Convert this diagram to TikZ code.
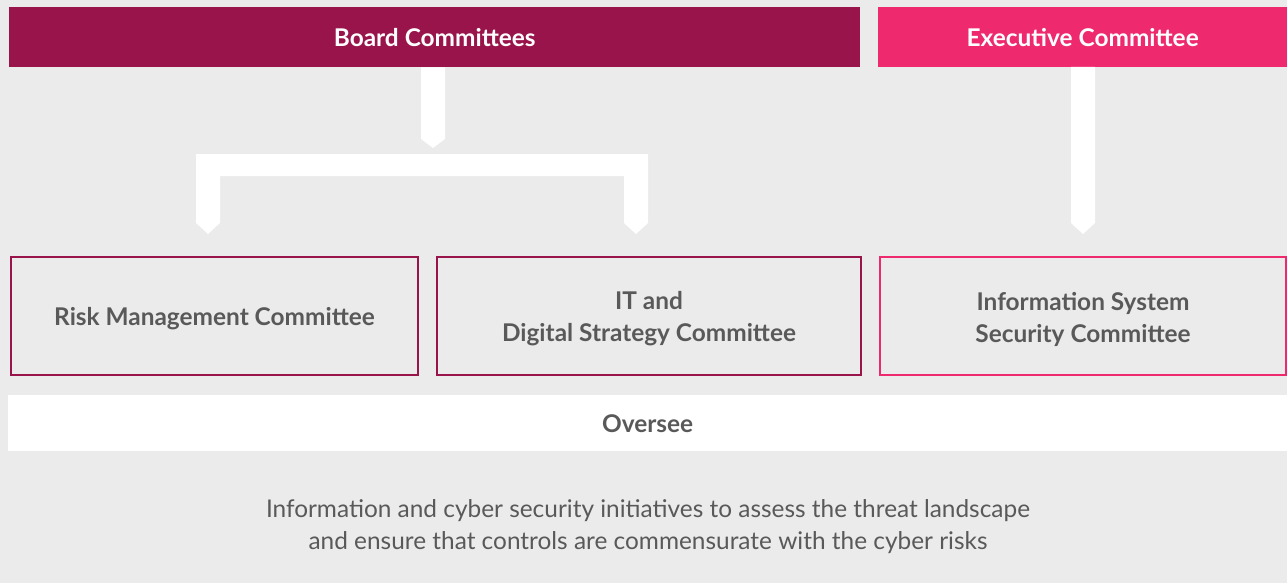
\documentclass[tikz,border=0pt]{standalone}
\usepackage{fontspec}
\setmainfont{Lato}
\usetikzlibrary{calc}
\definecolor{bgray}{HTML}{EBEBEB}
\definecolor{boardc}{HTML}{99144B}
\definecolor{execc}{HTML}{EE296E}
\definecolor{txtc}{HTML}{595959}
\tikzset{
  header/.style={anchor=north west, inner sep=0pt, text=white, font=\fontsize{24.4}{28}\selectfont\bfseries, align=center},
  combox/.style={anchor=north west, inner sep=0pt, line width=2pt, minimum height=118pt},
  comtext/.style={inner sep=0pt, text=txtc, font=\fontsize{24.4}{32}\selectfont\bfseries, align=center, yshift=-3pt},
  conn/.style={fill=white, draw=none},
}
\begin{document}
\begin{tikzpicture}[x=1pt,y=-1pt]
\fill[bgray] (0,0) rectangle (1287,583);
\useasboundingbox (0,0) rectangle (1287,583);
% headers
\node[header, fill=boardc, minimum width=851pt, minimum height=60pt] (board) at (9,7) {\raisebox{-1pt}{Board Committees}};
\node[header, fill=execc, minimum width=409pt, minimum height=60pt] (exec) at (878,7) {\raisebox{-1pt}{Executive Committee}};
% committee boxes
\node[combox, draw=boardc, minimum width=407pt, label={[comtext]center:Risk Management Committee}] (risk) at (10,256) {};
\node[combox, draw=boardc, minimum width=424pt, label={[comtext]center:{IT and\\Digital Strategy Committee}}] (it) at (436,256) {};
\node[combox, draw=execc, minimum width=406pt, label={[comtext]center:{Information System\\Security Committee}}] (iss) at (879,256) {};
% oversee band
\node[anchor=north west, inner sep=0pt, fill=white, minimum width=1279pt, minimum height=56pt, text=txtc, font=\fontsize{24.4}{28}\selectfont\bfseries] (oversee) at (8,395) {\raisebox{-1pt}{Oversee}};
% description
\node[inner sep=0pt, text=txtc, font=\fontsize{24.4}{32}\selectfont, align=center] (desc) at (648,527) {Information and cyber security initiatives to assess the threat landscape\\and ensure that controls are commensurate with the cyber risks};
% connectors
\coordinate (bj) at (433,148);
\fill[conn] (board.south) ++(-13.5,0) -- ++(24,0) -- ($(bj)+(12,-9)$) -- (bj) -- ($(bj)+(-12,-9)$) -- cycle;
\coordinate (lt) at (208,234);
\coordinate (rt) at (636,234);
\fill[conn] (196,154) -- (648,154) -- ($(rt)+(12,-11)$) -- (rt) -- ($(rt)+(-12,-11)$) -- (624,176) -- (220,176) -- ($(lt)+(12,-11)$) -- (lt) -- ($(lt)+(-12,-11)$) -- cycle;
\coordinate (et) at (1083,234);
\fill[conn] (1071,67) -- (1095,67) -- ($(et)+(12,-11)$) -- (et) -- ($(et)+(-12,-11)$) -- cycle;
\end{tikzpicture}
\end{document}
